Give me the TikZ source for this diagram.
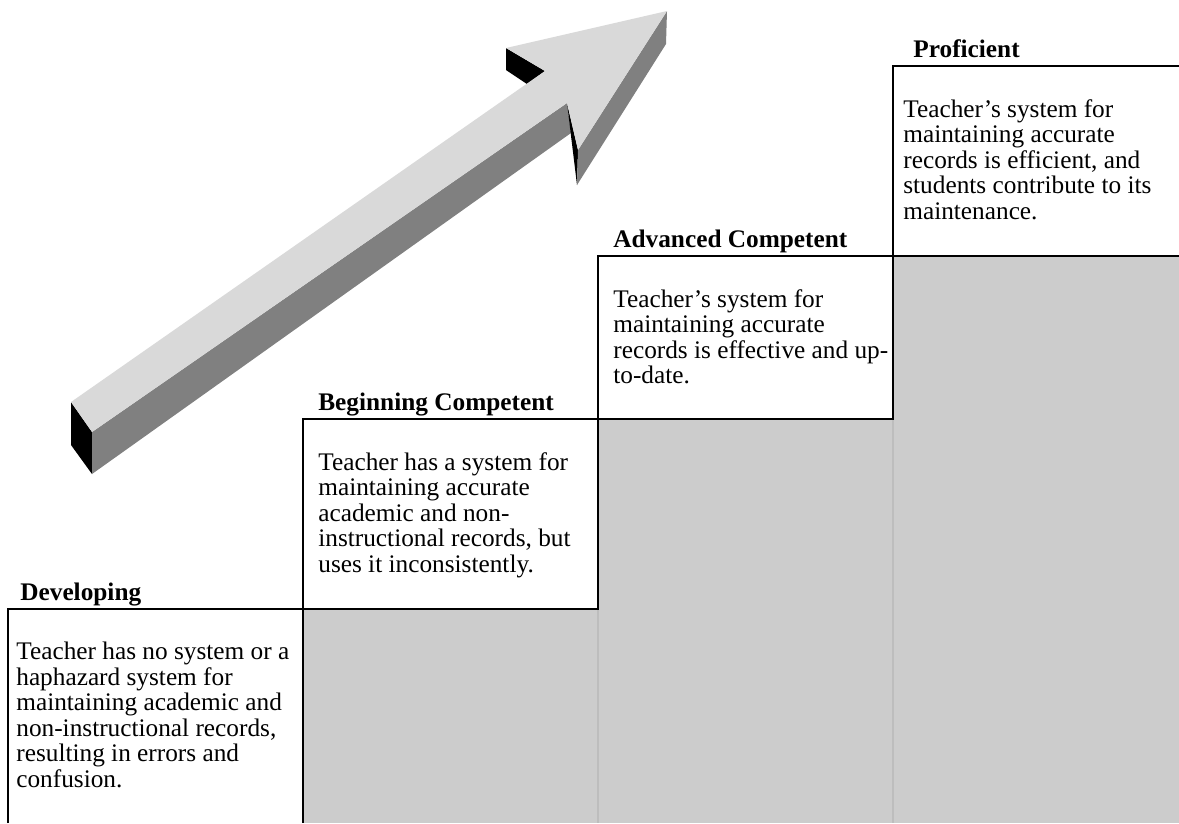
\documentclass[tikz,border=0pt]{standalone}
\usepackage{fontspec}
\setmainfont{Liberation Serif}
\usepackage{tikz}
\usetikzlibrary{positioning}

\definecolor{stepgray}{HTML}{CCCCCC}
\definecolor{seamgray}{HTML}{BDBDBD}
\definecolor{arrowtop}{HTML}{D9D9D9}
\definecolor{arrowside}{HTML}{808080}

\tikzset{
    boxline/.style={line width=1.1pt},
    headtext/.style={font=\fontsize{14.4}{14.5}\selectfont\bfseries, anchor=base west, inner sep=0pt},
    bodytext/.style={font=\fontsize{14.4}{14.5}\selectfont, anchor=north west, align=left, inner sep=0pt}
}

\begin{document}
\begin{tikzpicture}[x=0.02cm, y=-0.02cm]
    \useasboundingbox (0,0) rectangle (1179,823);

    % grey steps
    \fill[stepgray] (303,609) rectangle (598,823);
    \fill[stepgray] (598,419) rectangle (893,823);
    \fill[stepgray] (893,256) rectangle (1179,823);
    \draw[seamgray, line width=0.6pt] (598,609) -- (598,823);
    \draw[seamgray, line width=0.6pt] (893,419) -- (893,823);

    % boxes
    \draw[boxline] (8,823) |- (303,609) -- (303,823);
    \draw[boxline] (303,419) rectangle (598,609);
    \draw[boxline] (598,256) rectangle (893,419);
    \draw[boxline] (1179,66) -| (893,256) -- (1179,256);

    % 3d arrow
    \fill[black] (71,402) -- (92,432) -- (92,474) -- (71,445) -- cycle;
    \fill[black] (506,48) -- (545,71) -- (527,84) -- (506,70) -- cycle;
    \fill[arrowside] (92,432) -- (92,474) -- (571,133) -- (567,103) -- cycle;
    \fill[black] (567,103) -- (578,150) -- (577,185) -- cycle;
    \fill[arrowside] (667,11) -- (578,150) -- (577,185) -- (666,44) -- cycle;
    \fill[arrowtop] (71,402) -- (545,71) -- (506,48) -- (667,11) -- (578,150) -- (567,103) -- (92,432) -- cycle;

    % levels
    \node[headtext] (devhead) at (20,600) {Developing};
    \node[headtext] (beghead) at (318,410) {Beginning Competent};
    \node[headtext] (advhead) at (613,247) {Advanced Competent};
    \node[headtext] (profhead) at (913,57) {Proficient};

    \node[bodytext] (devtext) at (16,642) {Teacher has no system or a\\haphazard system for\\maintaining academic and\\non-instructional records,\\resulting in errors and\\confusion.};
    \node[bodytext] (begtext) at (318,452) {Teacher has a system for\\maintaining accurate\\academic and non-\\instructional records, but\\uses it inconsistently.};
    \node[bodytext] (advtext) at (613,289) {Teacher's system for\\maintaining accurate\\records is effective and up-\\to-date.};
    \node[bodytext] (proftext) at (903,99) {Teacher's system for\\maintaining accurate\\records is efficient, and\\students contribute to its\\maintenance.};
\end{tikzpicture}
\end{document}
